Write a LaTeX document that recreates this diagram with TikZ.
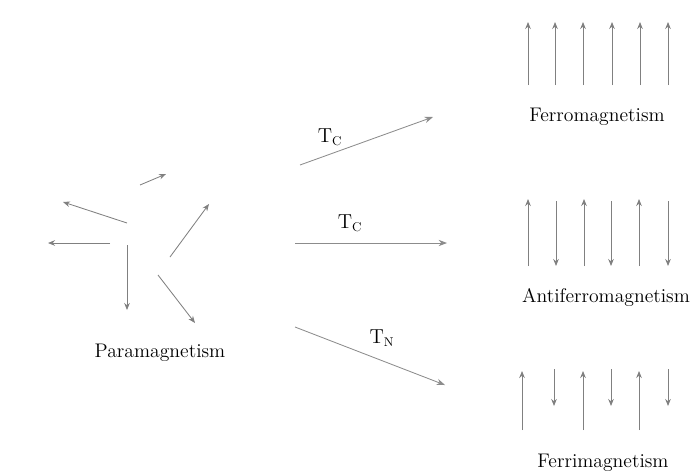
\documentclass[tikz,border=0pt]{standalone}
\usetikzlibrary{arrows.meta}
\begin{document}
\begin{tikzpicture}[x=0.025cm, y=-0.025cm,
  spin/.style={draw=black!50, line width=0.6pt, -{Stealth[length=5pt,width=4pt]}},
  trans/.style={draw=black!45, line width=0.6pt, -{Stealth[length=6pt,width=4.5pt]}},
  caption/.style={font=\fontsize{14}{16}\selectfont},
  temp/.style={font=\fontsize{13.5}{16}\selectfont}]
\useasboundingbox (0,0) rectangle (694,474);
% paramagnetism: random spins
\foreach \a/\b/\c/\d [count=\i] in {140/185/166/174, 127/223/63/202, 110/243/48/243,
    127/245/127/310, 170/257/209/204, 158/275/195/323} {
  \coordinate (pt\i) at (\a,\b);
  \coordinate (ph\i) at (\c,\d);
  \draw[spin] (pt\i) -- (ph\i);
}
\node[caption] (para) at (160,353) {Paramagnetism};
% transitions
\coordinate (s1) at (300,165); \coordinate (e1) at (433,117);
\coordinate (s2) at (295,243); \coordinate (e2) at (447,243);
\coordinate (s3) at (295,327); \coordinate (e3) at (445,385);
\draw[trans] (s1) -- (e1);
\draw[trans] (s2) -- (e2);
\draw[trans] (s3) -- (e3);
\node[temp] (tc1) at (330,137) {$\mathrm{T_C}$};
\node[temp] (tc2) at (350,223) {$\mathrm{T_C}$};
\node[temp] (tn) at (382,338) {$\mathrm{T_N}$};
% ferromagnetism
\foreach \x in {528,555,583,612,640,668}
  \draw[spin] (\x,85) -- (\x,22);
\node[caption] (ferro) at (597,117) {Ferromagnetism};
% antiferromagnetism
\foreach \x in {528,584,639}
  \draw[spin] (\x,266) -- (\x,199);
\foreach \x in {556,611,668}
  \draw[spin] (\x,201) -- (\x,266);
\node[caption] (anti) at (606,297) {Antiferromagnetism};
% ferrimagnetism
\foreach \x in {522,583,639}
  \draw[spin] (\x,430) -- (\x,371);
\foreach \x in {554,611,668}
  \draw[spin] (\x,369) -- (\x,406);
\node[caption] (ferri) at (603,463) {Ferrimagnetism};
\end{tikzpicture}
\end{document}
